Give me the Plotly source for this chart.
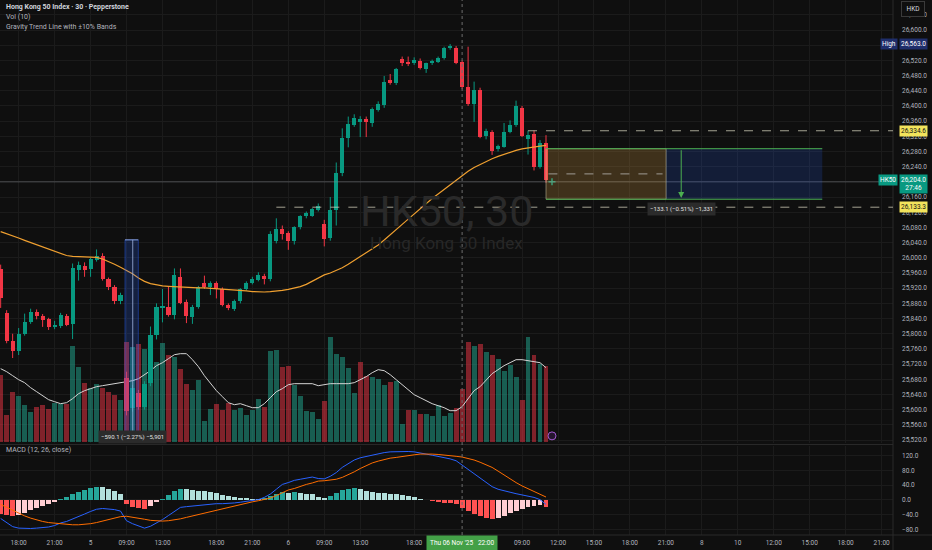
import plotly.graph_objects as go

# ---------------- data ----------------
bar_index = list(range(92))

opens = [25971, 25855, 25780, 25755, 25800, 25831, 25857, 25847, 25838, 25817,
         25820, 25847, 25826, 25968, 25979, 25970, 25995, 26005, 25943, 25922,
         25887, 25684, 25604, 25644, 25608, 25670, 25797, 25867, 25871, 25849,
         25949, 25884, 25845, 25870, 25934, 25922, 25934, 25917, 25876, 25864,
         25887, 25917, 25933, 25942, 25952, 25943, 26045, 26075, 26065, 26045,
         26080, 26110, 26111, 26126, 26089, 26051, 26126, 26223, 26316, 26350,
         26357, 26365, 26356, 26389, 26402, 26467, 26461, 26523, 26516, 26512,
         26519, 26498, 26512, 26517, 26525, 26552, 26552, 26515, 26449, 26405,
         26442, 26321, 26332, 26286, 26293, 26332, 26350, 26394, 26312, 26326,
         26238, 26303]
highs = [25982, 25862, 25800, 25815, 25853, 25866, 25864, 25852, 25842, 25834,
         25855, 25852, 25985, 25990, 25988, 26000, 26022, 26012, 25948, 25928,
         25908, 25700, 25665, 25652, 25675, 25819, 25880, 25918, 25925, 25972,
         25972, 25890, 25876, 25926, 25953, 25938, 25938, 25922, 25880, 25890,
         25920, 25938, 25950, 25962, 25958, 26070, 26104, 26085, 26070, 26083,
         26112, 26122, 26131, 26143, 26100, 26160, 26251, 26341, 26372, 26378,
         26373, 26372, 26396, 26412, 26479, 26484, 26500, 26530, 26530, 26528,
         26525, 26514, 26522, 26530, 26556, 26563, 26558, 26520, 26556, 26464,
         26448, 26340, 26336, 26298, 26355, 26362, 26414, 26400, 26335, 26335,
         26310, 26323]
lows = [25868, 25775, 25736, 25744, 25795, 25826, 25838, 25818, 25810, 25812,
        25815, 25820, 25786, 25940, 25950, 25950, 25990, 25940, 25915, 25878,
        25878, 25585, 25595, 25600, 25600, 25662, 25785, 25830, 25845, 25838,
        25878, 25828, 25826, 25866, 25918, 25902, 25893, 25872, 25862, 25860,
        25880, 25914, 25930, 25938, 25930, 25938, 26038, 26048, 26021, 26035,
        26075, 26104, 26108, 26122, 26030, 26045, 26085, 26215, 26291, 26345,
        26318, 26318, 26345, 26385, 26395, 26456, 26455, 26505, 26505, 26508,
        26496, 26487, 26508, 26513, 26522, 26548, 26510, 26445, 26400, 26358,
        26315, 26312, 26271, 26280, 26290, 26328, 26345, 26318, 26272, 26230,
        26235, 26198]
closes = [25894, 25782, 25755, 25799, 25831, 25857, 25846, 25836, 25817, 25822,
          25849, 25824, 25972, 25981, 25968, 25996, 26005, 25943, 25922, 25887,
          25902, 25597, 25656, 25607, 25668, 25797, 25871, 25873, 25849, 25955,
          25882, 25847, 25871, 25922, 25923, 25934, 25917, 25876, 25867, 25887,
          25917, 25934, 25943, 25955, 25943, 26063, 26075, 26063, 26045, 26080,
          26110, 26117, 26128, 26137, 26049, 26126, 26223, 26316, 26352, 26367,
          26365, 26357, 26391, 26405, 26464, 26460, 26496, 26514, 26510, 26520,
          26499, 26512, 26518, 26525, 26552, 26557, 26514, 26449, 26405, 26442,
          26319, 26335, 26280, 26295, 26332, 26350, 26400, 26321, 26323, 26238,
          26303, 26204]
volumes = [6700, 2700, 5000, 4600, 3700, 3000, 3500, 3700, 3300, 3900,
           3800, 3800, 9600, 7500, 5900, 5400, 5800, 5400, 5000, 4700,
           4200, 10000, 9500, 9800, 9300, 8000, 8000, 9900, 8700, 8500,
           7300, 5800, 5200, 6200, 2100, 3300, 3800, 3200, 3900, 3200,
           3400, 2700, 3200, 4300, 3500, 9100, 9200, 7500, 7600, 5700,
           4600, 3100, 3000, 2300, 4100, 10500, 8800, 8500, 7400, 4900,
           8000, 6600, 6500, 6300, 5700, 6000, 6100, 1800, 3200, 3200,
           2800, 2800, 2600, 3700, 2600, 2900, 3400, 5300, 10000, 9600,
           9800, 9000, 8700, 8300, 7100, 7700, 6500, 4200, 10500, 8700,
           7800, 7600]
volume_ma = [7300, 7000, 6600, 6200, 5900, 5400, 5000, 4600, 4200, 4000,
             3800, 3900, 4300, 4800, 5100, 5300, 5500, 5600, 5700, 5800,
             5900, 6000, 6100, 6300, 6700, 7100, 7600, 7900, 8300, 8700,
             8800, 8800, 8200, 7500, 6600, 5800, 5100, 4500, 3900, 3700,
             3800, 3600, 3400, 3400, 3800, 4400, 5000, 5300, 5700, 5800,
             5800, 5800, 5800, 5600, 5700, 5800, 5800, 5800, 5800, 5900,
             6200, 6500, 6900, 7200, 7100, 6700, 6200, 5700, 5200, 4700,
             4400, 4100, 3800, 3600, 3400, 3100, 3100, 3500, 4300, 5100,
             5500, 6200, 6800, 7200, 7600, 7900, 8200, 8200, 8100, 8000,
             7900, 7400]
gravity_line = [26069, 26064, 26058, 26052, 26046, 26040, 26034, 26028, 26022, 26016,
                26010, 26006, 26004, 26003, 26002, 26002, 26001, 25997, 25991, 25983,
                25975, 25967, 25958, 25947, 25938, 25932, 25928, 25926, 25925, 25924,
                25923, 25922, 25922, 25921, 25921, 25920, 25919, 25918, 25917, 25916,
                25915, 25913, 25911, 25910, 25910, 25911, 25912, 25914, 25917, 25920,
                25924, 25930, 25938, 25948, 25955, 25960, 25966, 25974, 25983, 25993,
                26003, 26013, 26023, 26034, 26047, 26060, 26074, 26088, 26102, 26116,
                26130, 26143, 26156, 26168, 26180, 26192, 26205, 26218, 26228, 26238,
                26246, 26254, 26261, 26267, 26273, 26278, 26283, 26287, 26290, 26292,
                26294, 26296]
macd_line = [-50, -61, -72, -76, -77, -77, -76, -75, -73, -69,
             -62, -58, -52, -45, -38, -31, -25, -23, -24, -26,
             -30, -56, -64, -71, -76, -71, -63, -53, -42, -30,
             -20, -18, -16, -14, -13, -11, -10, -10, -10, -8,
             -6, -3, -1, 1, 7, 16, 29, 42, 47, 53,
             56, 59, 62, 58, 57, 64, 74, 88, 99, 108,
             114, 118, 122, 125, 128, 130, 131, 131, 131, 130,
             128, 124, 121, 118, 115, 111, 106, 94, 83, 71,
             59, 47, 36, 29, 24, 21, 17, 14, 11, 7,
             1, -12]
signal_line = [-12, -20, -28, -36, -43, -49, -54, -58, -61, -63,
               -65, -66, -67, -67, -66, -64, -61, -57, -53, -49,
               -45, -44, -46, -49, -52, -55, -57, -57, -56, -54,
               -51, -47, -43, -39, -36, -32, -28, -24, -20, -16,
               -12, -8, -5, -2, 1, 5, 12, 20, 27, 31,
               37, 42, 46, 51, 52, 53, 56, 61, 68, 76,
               85, 93, 100, 105, 110, 113, 115, 118, 120, 122,
               124, 125, 124, 123, 122, 120, 118, 116, 113, 108,
               102, 95, 88, 78, 67, 57, 47, 38, 31, 23,
               15, 8]
macd_hist = [-38, -41, -44, -40, -34, -28, -22, -17, -12, -6,
             3, 8, 15, 22, 28, 33, 36, 34, 29, 23,
             15, -12, -18, -22, -24, -16, -6, 4, 14, 24,
             31, 29, 27, 25, 23, 21, 18, 14, 10, 8,
             6, 5, 4, 3, 6, 11, 17, 22, 20, 22,
             19, 17, 16, 7, 5, 11, 18, 27, 31, 32,
             29, 25, 22, 20, 18, 17, 16, 13, 11, 8,
             4, -1, -3, -5, -7, -9, -12, -22, -30, -37,
             -43, -48, -52, -49, -43, -36, -30, -24, -20, -16,
             -14, -20]

time_tick_pos = [3, 9, 15, 21, 27, 36, 42, 48, 54, 60, 69,
                 87, 93, 99, 105, 111, 117, 123, 129, 135, 141, 147]
time_tick_text = ["18:00", "21:00", "5", "09:00", "13:00", "18:00", "21:00", "6",
                  "09:00", "13:00", "18:00", "09:00", "12:00", "15:00", "18:00",
                  "21:00", "8", "10", "12:00", "15:00", "18:00", "21:00"]
price_ticks = [25520, 25560, 25600, 25640, 25680, 25720, 25760, 25800, 25840,
               25880, 25920, 25960, 26000, 26040, 26080, 26120, 26160, 26200,
               26240, 26280, 26320, 26360, 26400, 26440, 26480, 26520, 26560,
               26600, 26640]
macd_ticks = [-80, -40, 0, 40, 80, 120]

session_high = 26563.0
last_price = 26204.0
level_upper = 26334.6
level_lower = 26133.3
crosshair_bar = 77
crosshair_price = 26200
range_top, range_bottom = 26287.4, 26154.3
range_mid = 26221
range_bar_start, range_bar_split, range_bar_end, range_bar_arrow = 91.0, 111.05, 137.1, 113.56
drop_top = 26047.3
drop_bars = (20.75, 22.97, 22.04)

# ---------------- style ----------------
UP, DN = "#089981", "#f23645"
BG = "#0f0f0f"
GRID = "#1b1b1b"
TXT = "#b2b5be"
FONT = "Roboto"
FS = 6.5

fig = go.Figure()

# volume (base overlay axis so that candles sit above it)
vol_colors = []
for i, c in enumerate(closes):
    prev = closes[i - 1] if i > 0 else opens[0]
    vol_colors.append("rgba(34,171,148,0.5)" if c >= prev else "rgba(242,54,69,0.5)")
fig.add_trace(go.Bar(x=bar_index, y=volumes, width=0.82, yaxis="y",
                     marker=dict(color=vol_colors, line_width=0), hoverinfo="skip"))
fig.add_trace(go.Scatter(x=bar_index, y=volume_ma, mode="lines", yaxis="y",
                         line=dict(color="#d4d4d4", width=1), hoverinfo="skip"))

# candles
body = []
for o, c in zip(opens, closes):
    d = c - o
    if abs(d) < 2.5:
        d = 2.5 if d >= 0 else -2.5
    body.append(d)
ccol = [UP if c >= o else DN for o, c in zip(opens, closes)]
for col in (UP, DN):
    wx, wy = [], []
    for i in bar_index:
        if ccol[i] == col:
            wx += [i, i, None]
            wy += [lows[i], highs[i], None]
    fig.add_trace(go.Scatter(x=wx, y=wy, mode="lines", yaxis="y2",
                             line=dict(color=col, width=1), hoverinfo="skip"))
fig.add_trace(go.Bar(x=bar_index, y=body, base=opens, width=0.68, yaxis="y2",
                     marker=dict(color=ccol, line_width=0), hoverinfo="skip"))
fig.add_trace(go.Scatter(x=bar_index, y=gravity_line, mode="lines", yaxis="y2",
                         line=dict(color="#f0a030", width=1.2), hoverinfo="skip"))
# small markers at the last bar
fig.add_trace(go.Scatter(x=[92], y=[last_price - 4], mode="markers", yaxis="y2",
                         marker=dict(symbol="cross-thin", size=5,
                                     line=dict(color=UP, width=1.5)), hoverinfo="skip"))
fig.add_trace(go.Scatter(x=[92], y=[25531], mode="markers", yaxis="y2",
                         marker=dict(symbol="circle", size=8, color="#25152f",
                                     line=dict(color="#a35ad1", width=1)), hoverinfo="skip"))

# MACD
hcol = []
for i, h in enumerate(macd_hist):
    prev = macd_hist[i - 1] if i > 0 else h
    if h >= 0:
        hcol.append("#26a69a" if h > prev else "#b2dfdb")
    else:
        hcol.append("#ffcdd2" if h > prev else "#ff5252")
fig.add_trace(go.Bar(x=bar_index, y=macd_hist, width=0.82, yaxis="y3",
                     marker=dict(color=hcol, line_width=0), hoverinfo="skip"))
fig.add_trace(go.Scatter(x=bar_index, y=macd_line, mode="lines", yaxis="y3",
                         line=dict(color="#2962ff", width=1), hoverinfo="skip"))
fig.add_trace(go.Scatter(x=bar_index, y=signal_line, mode="lines", yaxis="y3",
                         line=dict(color="#ff6d00", width=1), hoverinfo="skip"))

price_dom = [0.172, 1.0]
macd_dom = [0.0, 0.1664]
tickfont = dict(size=FS, color=TXT, family=FONT)

fig.update_layout(
    width=932, height=550, autosize=False,
    margin=dict(l=0, r=39, t=0, b=15, pad=0),
    paper_bgcolor=BG, plot_bgcolor=BG,
    showlegend=False, barmode="overlay", bargap=0,
    font=dict(family=FONT, color=TXT, size=FS),
    xaxis=dict(range=[-0.11, 148.9], tickvals=time_tick_pos, ticktext=time_tick_text,
               showgrid=True, gridcolor=GRID, gridwidth=1, zeroline=False, showline=False,
               ticks="", tickfont=tickfont, anchor="y3", ticklabelstandoff=2,
               fixedrange=True),
    yaxis=dict(domain=price_dom, range=[-130, 44170], visible=False, fixedrange=True),
    yaxis2=dict(overlaying="y", side="right", anchor="x", range=[25512.3, 26679],
                tickvals=price_ticks, ticktext=[f"{v:,.1f}" for v in price_ticks],
                showgrid=True, gridcolor=GRID, zeroline=False, showline=False, ticks="",
                tickfont=tickfont, ticklabelstandoff=8, fixedrange=True),
    yaxis3=dict(domain=macd_dom, side="right", anchor="x", range=[-94.6, 145.9],
                tickvals=macd_ticks,
                ticktext=[(f"{v:.1f}" if v >= 0 else "\u2212" + f"{-v:.1f}") for v in macd_ticks],
                showgrid=True, gridcolor=GRID, zeroline=False, showline=False, ticks="",
                tickfont=tickfont, ticklabelstandoff=8, fixedrange=True),
)

shapes = []
# frame lines
shapes.append(dict(type="line", xref="paper", yref="paper", x0=0, x1=1, y0=0.1692, y1=0.1692,
                   line=dict(color="#2a2a2a", width=1)))
shapes.append(dict(type="line", xref="paper", yref="paper", x0=1, x1=1, y0=-0.03, y1=1,
                   line=dict(color="#2a2a2a", width=1)))
shapes.append(dict(type="line", xref="paper", yref="paper", x0=0, x1=1.05, y0=0, y1=0,
                   line=dict(color="#2a2a2a", width=1)))
# horizontal price line
shapes.append(dict(type="line", xref="x", yref="y2", x0=-0.11, x1=148.9,
                   y0=crosshair_price, y1=crosshair_price,
                   line=dict(color="rgba(140,142,150,0.45)", width=1)))
# dashed levels
shapes.append(dict(type="line", xref="x", yref="y2", x0=88, x1=148.9, y0=level_upper, y1=level_upper,
                   line=dict(color="rgba(215,212,190,0.75)", width=1, dash="dash")))
shapes.append(dict(type="line", xref="x", yref="y2", x0=46, x1=148.9, y0=level_lower, y1=level_lower,
                   line=dict(color="rgba(215,212,190,0.75)", width=1, dash="dash")))
# drop measurement box
shapes.append(dict(type="rect", xref="x", yref="y2", x0=drop_bars[0], x1=drop_bars[1],
                   y0=25512.3, y1=drop_top, fillcolor="rgba(41,98,255,0.2)",
                   line=dict(color="rgba(41,98,255,0.45)", width=1), layer="above"))
shapes.append(dict(type="line", xref="x", yref="y2", x0=drop_bars[2], x1=drop_bars[2],
                   y0=25512.3, y1=drop_top, line=dict(color="rgba(160,180,225,0.8)", width=1)))
shapes.append(dict(type="line", xref="x", yref="y2", x0=drop_bars[0], x1=drop_bars[1],
                   y0=drop_top, y1=drop_top, line=dict(color="rgba(160,180,225,0.8)", width=1)))
# range tool boxes
shapes.append(dict(type="rect", xref="x", yref="y2", x0=range_bar_start, x1=range_bar_split,
                   y0=range_bottom, y1=range_top, fillcolor="rgba(255,183,77,0.2)",
                   line=dict(color="rgba(200,195,160,0.55)", width=1), layer="above"))
shapes.append(dict(type="rect", xref="x", yref="y2", x0=range_bar_split, x1=range_bar_end,
                   y0=range_bottom, y1=range_top, fillcolor="rgba(41,98,255,0.17)",
                   line=dict(width=0), layer="above"))
for yv in (range_top, range_bottom):
    shapes.append(dict(type="line", xref="x", yref="y2", x0=range_bar_start, x1=range_bar_end,
                       y0=yv, y1=yv, line=dict(color="#4caf50", width=1)))
shapes.append(dict(type="line", xref="x", yref="y2", x0=range_bar_start + 0.4, x1=range_bar_split - 0.6,
                   y0=range_mid, y1=range_mid,
                   line=dict(color="rgba(200,200,200,0.7)", width=1, dash="dash")))
# crosshair vertical
shapes.append(dict(type="line", xref="x", yref="paper", x0=crosshair_bar, x1=crosshair_bar,
                   y0=0, y1=1, line=dict(color="#6e6e6e", width=1, dash="dot")))
fig.update_layout(shapes=shapes)

ann = []
def label(text, x, y, xref="paper", yref="paper", size=FS, color=TXT, bg=None,
          xanchor="left", yanchor="middle", pad=1, border=None):
    d = dict(text=text, x=x, y=y, xref=xref, yref=yref, showarrow=False,
             font=dict(size=size, color=color, family=FONT), xanchor=xanchor,
             yanchor=yanchor, borderpad=pad)
    if bg:
        d["bgcolor"] = bg
    if border:
        d["bordercolor"] = border
        d["borderwidth"] = 1
    ann.append(d)

# legends top-left
label("<b>Hong Kong 50 Index · 30 · Pepperstone</b>", 0.005, 1 - 7 / 535, size=7, color="#d1d4dc")
label("Vol (10)", 0.005, 1 - 17 / 535, size=7)
label("Gravity Trend Line with ±10% Bands", 0.005, 1 - 27 / 535, size=7)
label("MACD (12, 26, close)", 0.005, 1 - 450 / 535, size=7)
# watermark
label("HK50, 30", 0.5, 1 - 211 / 535, size=43, color="#2a2a2a", xanchor="center")
label("Hong Kong 50 Index", 0.5, 1 - 243 / 535, size=17, color="#272727", xanchor="center")
# currency box
label("&nbsp;HKD&nbsp;", 912.5 / 893, 1 - 9.5 / 535, size=FS, color="#d1d4dc", bg=BG,
      xanchor="center", pad=3, border="#3a3a3a")
# price scale badges
label("High", 898 / 893, session_high, yref="y2", color="#ffffff", bg="#1f2e6b", xanchor="right")
label(f"{session_high:,.1f}", 899 / 893, session_high, yref="y2", color="#ffffff", bg="#1f2e6b")
label(f"{level_upper:,.1f}", 899 / 893, level_upper, yref="y2", color="#131313", bg="#f2e35c")
label(f"{level_lower:,.1f}", 899 / 893, level_lower, yref="y2", color="#131313", bg="#f2e35c")
label("HK50", 898 / 893, last_price, yref="y2", color="#ffffff", bg=UP, xanchor="right")
label(f"{last_price:,.1f}<br>27:46", 899 / 893, last_price + 16, yref="y2", color="#ffffff",
      bg=UP, yanchor="top", size=FS)
# measurement labels
label("\u2212590.1 (\u22122.27%) \u22125,901", drop_bars[2], 25528, xref="x", yref="y2",
      color="#e0e0e0", bg="#2b2b2b", xanchor="center", size=6, pad=2)
label("\u2212133.1 (\u22120.51%) \u22121,331", range_bar_arrow, 26128.6, xref="x", yref="y2",
      color="#e0e0e0", bg="#2b2b2b", xanchor="center", size=6, pad=2)
# crosshair time label
label("Thu 06 Nov '25&nbsp;&nbsp;&nbsp;22:00", crosshair_bar, -8 / 535, xref="x",
      color="#ffffff", bg="#43a047", xanchor="center", pad=3)
# arrow in range tool
ann.append(dict(x=range_bar_arrow, y=range_bottom + 3, xref="x", yref="y2",
                ax=range_bar_arrow, ay=range_top, axref="x", ayref="y2", text="",
                showarrow=True, arrowhead=2, arrowsize=1.2, arrowwidth=1,
                arrowcolor="#4caf50"))
fig.update_layout(annotations=ann)

fig.write_html("out.html", config={"displayModeBar": False, "staticPlot": True},
               post_script="document.body.style.margin='0';")
